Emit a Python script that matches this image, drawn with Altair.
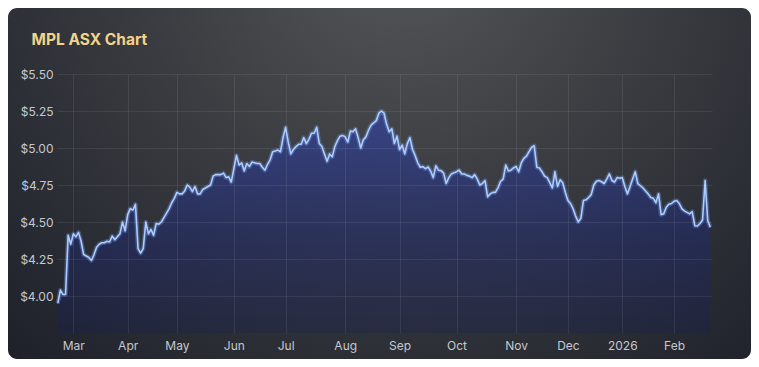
import altair as alt
import pandas as pd

# ---- data ----
start_date = "2025-02-21"
end_date = "2026-02-20"
asx_holidays = ["2025-04-18", "2025-04-21", "2025-04-25", "2025-06-09",
                "2025-12-25", "2025-12-26", "2026-01-01", "2026-01-26"]

prices = [
    3.95, 4.04, 4.01, 4.01, 4.41, 4.35, 4.42, 4.40, 4.43, 4.37,
    4.28, 4.27, 4.26, 4.24, 4.28, 4.33, 4.35, 4.36, 4.36, 4.37,
    4.365, 4.405, 4.38, 4.40, 4.42, 4.50, 4.44, 4.55, 4.59, 4.58,
    4.62, 4.32, 4.29, 4.32, 4.50, 4.42, 4.45, 4.41, 4.49, 4.485,
    4.50, 4.53, 4.56, 4.59, 4.63, 4.66, 4.70, 4.69, 4.69, 4.71,
    4.75, 4.735, 4.705, 4.74, 4.69, 4.69, 4.72, 4.73, 4.74, 4.75,
    4.81, 4.82, 4.82, 4.82, 4.83, 4.80, 4.805, 4.77, 4.86, 4.95,
    4.885, 4.90, 4.845, 4.895, 4.875, 4.905, 4.90, 4.895, 4.895, 4.87,
    4.85, 4.89, 4.92, 4.975, 4.98, 4.986, 4.975, 5.07, 5.14, 5.04,
    4.96, 4.99, 5.01, 5.025, 5.025, 5.07, 5.03, 5.06, 5.10, 5.10,
    5.14, 5.03, 5.01, 4.96, 4.91, 4.96, 4.94, 5.01, 5.05, 5.08,
    5.085, 5.075, 5.04, 5.115, 5.11, 5.13, 5.07, 5.00, 5.055, 5.075,
    5.12, 5.155, 5.17, 5.185, 5.235, 5.25, 5.235, 5.16, 5.11, 5.13,
    5.03, 5.08, 4.99, 5.02, 4.96, 5.03, 5.07, 4.99, 4.95, 4.90,
    4.87, 4.874, 4.86, 4.872, 4.845, 4.80, 4.88, 4.85, 4.847, 4.83,
    4.76, 4.80, 4.825, 4.832, 4.84, 4.85, 4.824, 4.824, 4.815, 4.81,
    4.80, 4.82, 4.79, 4.75, 4.76, 4.78, 4.67, 4.69, 4.70, 4.70,
    4.73, 4.775, 4.79, 4.885, 4.845, 4.85, 4.865, 4.875, 4.84, 4.90,
    4.93, 4.945, 4.975, 5.005, 5.015, 4.87, 4.865, 4.84, 4.81, 4.80,
    4.766, 4.73, 4.84, 4.74, 4.785, 4.765, 4.70, 4.645, 4.625, 4.59,
    4.54, 4.50, 4.525, 4.645, 4.65, 4.665, 4.685, 4.75, 4.775, 4.78,
    4.772, 4.76, 4.79, 4.825, 4.78, 4.77, 4.80, 4.795, 4.80, 4.74,
    4.69, 4.74, 4.79, 4.84, 4.76, 4.745, 4.73, 4.71, 4.69, 4.665,
    4.66, 4.63, 4.69, 4.55, 4.555, 4.60, 4.62, 4.625, 4.64, 4.645,
    4.625, 4.59, 4.575, 4.565, 4.555, 4.57, 4.475, 4.473, 4.49, 4.514,
    4.78, 4.51, 4.464,
]

title_text = "MPL ASX Chart"
y_ticks = [4.00, 4.25, 4.50, 4.75, 5.00, 5.25, 5.50]
y_domain = [3.75, 5.50]

# ---- table ----
dates = pd.bdate_range(start_date, end_date, freq="C", holidays=asx_holidays)
n = min(len(dates), len(prices))
df = pd.DataFrame({
    "idx": list(range(n)),
    "date": [d.strftime("%Y-%m-%d") for d in dates[:n]],
    "price": prices[:n],
})

# first trading day of each month -> axis tick (trading-day axis)
tick_idx, tick_lab = [], []
seen = set()
for i, d in enumerate(dates[:n]):
    key = (d.year, d.month)
    if key in seen:
        continue
    seen.add(key)
    if d.day > 7:
        continue
    tick_idx.append(i)
    tick_lab.append(str(d.year) if d.month == 1 else d.strftime("%b"))

label_expr = "''"
for i, lab in reversed(list(zip(tick_idx, tick_lab))):
    label_expr = f"datum.value == {i} ? '{lab}' : ({label_expr})"

W, H = 655, 259
grid_col = "rgba(255,255,255,0.08)"
lab_col = "#c6c8cd"
font = "Inter"

x_enc = alt.X(
    "idx:Q",
    scale=alt.Scale(domain=[-0.3, n - 1 + 0.65], nice=False, zero=False),
    axis=alt.Axis(values=tick_idx, labelExpr=label_expr, title=None,
                  grid=True, gridColor=grid_col, ticks=False, domain=False,
                  labelColor=lab_col, labelFontSize=12, labelFont=font,
                  labelPadding=7, labelFlush=False, zindex=1),
)
y_enc = alt.Y(
    "price:Q",
    scale=alt.Scale(domain=y_domain, nice=False, zero=False),
    axis=alt.Axis(values=y_ticks, format="$.2f", title=None,
                  grid=True, gridColor=grid_col, ticks=False, domain=False,
                  labelColor=lab_col, labelFontSize=12, labelFont=font,
                  labelPadding=4, zindex=1),
)

bg = alt.Chart(pd.DataFrame({"k": [0]})).mark_rect(
    cornerRadius=9,
    fill=alt.RadialGradient(
        gradient="radial",
        x1=0.53, y1=0.18, r1=0.0,
        x2=0.53, y2=0.18, r2=0.78,
        stops=[
            alt.GradientStop(color="#555657", offset=0),
            alt.GradientStop(color="#3a3c41", offset=0.45),
            alt.GradientStop(color="#1d2029", offset=1),
        ],
    ),
).encode(x=alt.value(-49), x2=alt.value(W + 39), y=alt.value(-66), y2=alt.value(H + 26))

title = alt.Chart(pd.DataFrame({"t": [title_text]})).mark_text(
    align="left", baseline="alphabetic", fontSize=15.5, font=font,
    fontWeight="bold", color="#f2d38a",
).encode(text="t:N", x=alt.value(-25.5), y=alt.value(-29.5))

base = alt.Chart(df)

area = base.mark_area(
    interpolate="linear",
    color=alt.Gradient(
        gradient="linear", x1=1, x2=1, y1=0, y2=1,
        stops=[
            alt.GradientStop(color="rgba(50,68,170,0.64)", offset=0),
            alt.GradientStop(color="rgba(28,40,120,0.42)", offset=0.6),
            alt.GradientStop(color="rgba(20,28,90,0.25)", offset=1),
        ],
    ),
).encode(x=x_enc, y=y_enc, y2=alt.datum(y_domain[0]))

glow = base.mark_line(stroke="#7aa8ff", strokeWidth=4.5, opacity=0.3,
                      strokeJoin="round").encode(x="idx:Q", y="price:Q")
line = base.mark_line(stroke="#accbff", strokeWidth=1.6,
                      strokeJoin="round").encode(x="idx:Q", y="price:Q",
                                                 tooltip=["date:N", alt.Tooltip("price:Q", format="$.3f")])

chart = alt.layer(bg, area, glow, line, title).properties(
    width=W, height=H,
    autosize=alt.AutoSizeParams(type="none"),
    padding={"left": 49, "top": 66, "right": 39, "bottom": 26},
).configure(background="white").configure_view(stroke="rgba(255,255,255,0.08)")

chart.save("out.html", embed_options={"renderer": "svg", "actions": False})
